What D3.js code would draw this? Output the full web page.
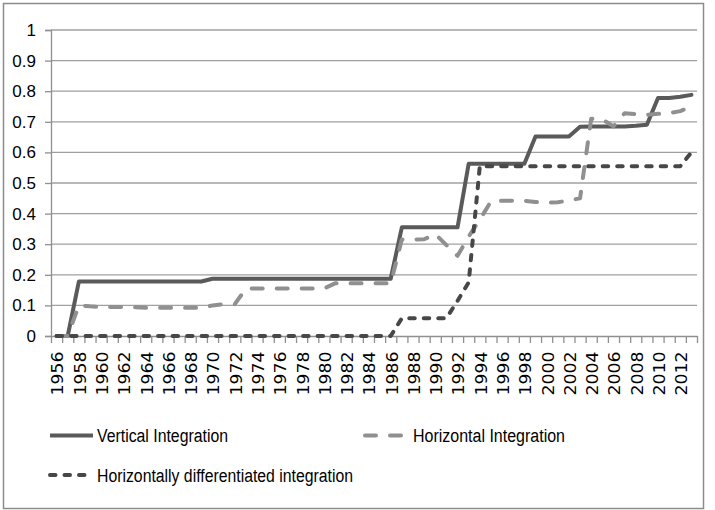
<!DOCTYPE html>
<html>
<head>
<meta charset="utf-8">
<script src="https://cdnjs.cloudflare.com/ajax/libs/d3/7.8.5/d3.min.js"></script>
<style>
  body { margin: 0; background: #fff; }
  svg { display: block; }
</style>
</head>
<body>
<div id="chart"></div>
<script>
// categories: one per year
const years = [1956, 1957, 1958, 1959, 1960, 1961, 1962, 1963, 1964, 1965,
  1966, 1967, 1968, 1969, 1970, 1971, 1972, 1973, 1974, 1975,
  1976, 1977, 1978, 1979, 1980, 1981, 1982, 1983, 1984, 1985,
  1986, 1987, 1988, 1989, 1990, 1991, 1992, 1993, 1994, 1995,
  1996, 1997, 1998, 1999, 2000, 2001, 2002, 2003, 2004, 2005,
  2006, 2007, 2008, 2009, 2010, 2011, 2012, 2013];

const vertical = [0, 0, 0.178, 0.178, 0.178, 0.178, 0.178, 0.178, 0.178, 0.178,
  0.178, 0.178, 0.178, 0.178, 0.187, 0.187, 0.187, 0.187, 0.187, 0.187,
  0.187, 0.187, 0.187, 0.187, 0.187, 0.187, 0.187, 0.187, 0.187, 0.187,
  0.187, 0.355, 0.355, 0.355, 0.355, 0.355, 0.355, 0.563, 0.563, 0.563,
  0.563, 0.563, 0.563, 0.652, 0.652, 0.652, 0.652, 0.684, 0.685, 0.685,
  0.685, 0.685, 0.687, 0.69, 0.778, 0.778, 0.782, 0.788];

const horizontal = [0, 0, 0.1, 0.097, 0.095, 0.095, 0.095, 0.094, 0.092, 0.092,
  0.092, 0.092, 0.092, 0.092, 0.1, 0.104, 0.104, 0.155, 0.155, 0.155,
  0.155, 0.155, 0.155, 0.155, 0.155, 0.172, 0.172, 0.172, 0.172, 0.172,
  0.172, 0.315, 0.315, 0.316, 0.333, 0.297, 0.262, 0.325, 0.38, 0.44,
  0.442, 0.442, 0.442, 0.438, 0.436, 0.437, 0.443, 0.45, 0.71, 0.708,
  0.685, 0.728, 0.725, 0.723, 0.726, 0.728, 0.735, 0.75];

const differentiated = [0, 0, 0, 0, 0, 0, 0, 0, 0, 0,
  0, 0, 0, 0, 0, 0, 0, 0, 0, 0,
  0, 0, 0, 0, 0, 0, 0, 0, 0, 0,
  0, 0.058, 0.058, 0.058, 0.058, 0.058, 0.115, 0.175, 0.555, 0.555,
  0.555, 0.555, 0.555, 0.555, 0.555, 0.555, 0.555, 0.555, 0.555, 0.555,
  0.555, 0.555, 0.555, 0.555, 0.555, 0.555, 0.555, 0.6];

const yTicks = [0, 0.1, 0.2, 0.3, 0.4, 0.5, 0.6, 0.7, 0.8, 0.9, 1];

const seriesNames = ["Vertical Integration", "Horizontal Integration",
  "Horizontally differentiated integration"];

const width = 715;
const height = 510;
const plotLeft = 51, plotRight = 697, plotTop = 30, plotBottom = 336;

const svg = d3.select("#chart")
  .append("svg")
  .attr("width", width)
  .attr("height", height);

// outer frame
svg.append("rect")
  .attr("x", 3.5).attr("y", 3.5)
  .attr("width", 700).attr("height", 505)
  .attr("fill", "#fff")
  .attr("stroke", "#8c8c8c")
  .attr("stroke-width", 1.5);

const x = d3.scalePoint().domain(years).range([plotLeft, plotRight]).padding(0.5);
const y = d3.scaleLinear().domain([0, 1]).range([plotBottom, plotTop]);

// gridlines
svg.append("g")
  .selectAll("line")
  .data(yTicks.filter((d) => d > 0))
  .enter()
  .append("line")
  .attr("x1", plotLeft).attr("x2", plotRight)
  .attr("y1", (d) => y(d)).attr("y2", (d) => y(d))
  .attr("stroke", "#a0a0a0")
  .attr("stroke-width", 1.3);

// y axis
const yAxis = svg.append("g")
  .attr("transform", `translate(${plotLeft},0)`)
  .call(d3.axisLeft(y).tickValues(yTicks).tickSize(6).tickPadding(9)
    .tickFormat((d) => String(+d.toFixed(1))));
yAxis.select(".domain").attr("stroke", "#909090").attr("stroke-width", 1.3);
yAxis.selectAll(".tick line").attr("stroke", "#909090").attr("stroke-width", 1.3);
yAxis.selectAll(".tick text")
  .attr("font-family", "'Liberation Sans Narrow', 'Liberation Sans', Arial, sans-serif")
  .attr("font-size", 17)
  .attr("fill", "#000");

// x axis: tick marks between categories
const edge = d3.scaleLinear().domain([0, years.length]).range([plotLeft, plotRight]);
const xAxis = svg.append("g")
  .attr("transform", `translate(0,${plotBottom})`)
  .call(d3.axisBottom(edge).tickValues(d3.range(0, years.length + 1))
    .tickSize(7).tickSizeOuter(0).tickFormat(""));
xAxis.select(".domain").attr("stroke", "#909090").attr("stroke-width", 1.3);
xAxis.selectAll(".tick line").attr("stroke", "#909090").attr("stroke-width", 1.3);

// x labels, every second year, rotated
svg.append("g")
  .selectAll("text")
  .data(years.filter((d, i) => i % 2 === 0))
  .enter()
  .append("text")
  .attr("transform", (d) => `translate(${x(d) + 1.5},351.5) rotate(-90)`)
  .attr("text-anchor", "end")
  .attr("dy", "0.36em")
  .attr("font-family", "'DejaVu Sans', Verdana, sans-serif")
  .attr("font-size", 15)
  .attr("textLength", 44)
  .attr("lengthAdjust", "spacingAndGlyphs")
  .attr("fill", "#000")
  .text((d) => d);

const styles = [
  { color: "#5a5a5a", dash: null, cap: "round" },
  { color: "#909090", dash: "11,14", cap: "round" },
  { color: "#474747", dash: "5.5,9", cap: "round" },
];

const line = d3.line()
  .x((d, i) => x(years[i]))
  .y((d) => y(d));

[vertical, horizontal, differentiated].forEach((values, k) => {
  svg.append("path")
    .datum(values)
    .attr("d", line)
    .attr("fill", "none")
    .attr("stroke", styles[k].color)
    .attr("stroke-width", 4)
    .attr("stroke-linejoin", "round")
    .attr("stroke-linecap", styles[k].cap)
    .attr("stroke-dasharray", styles[k].dash);
});

// legend
const legendItems = [
  { x1: 50, x2: 93, y: 435.5, tx: 97, tw: 131 },
  { x1: 365, x2: 403, y: 435.5, tx: 413, tw: 152 },
  { x1: 50, x2: 93, y: 475, tx: 97, tw: 256 },
];

const legend = svg.append("g");
legendItems.forEach((it, k) => {
  legend.append("line")
    .attr("x1", it.x1).attr("x2", it.x2)
    .attr("y1", it.y).attr("y2", it.y)
    .attr("stroke", styles[k].color)
    .attr("stroke-width", 4)
    .attr("stroke-linecap", k === 0 ? "butt" : "round")
    .attr("stroke-dasharray", styles[k].dash);
  legend.append("text")
    .attr("x", it.tx)
    .attr("y", it.y + 6.5)
    .attr("font-family", "'Liberation Sans Narrow', 'Liberation Sans', Arial, sans-serif")
    .attr("font-size", 18)
    .attr("textLength", it.tw)
    .attr("lengthAdjust", "spacingAndGlyphs")
    .attr("fill", "#000")
    .text(seriesNames[k]);
});
</script>
</body>
</html>
